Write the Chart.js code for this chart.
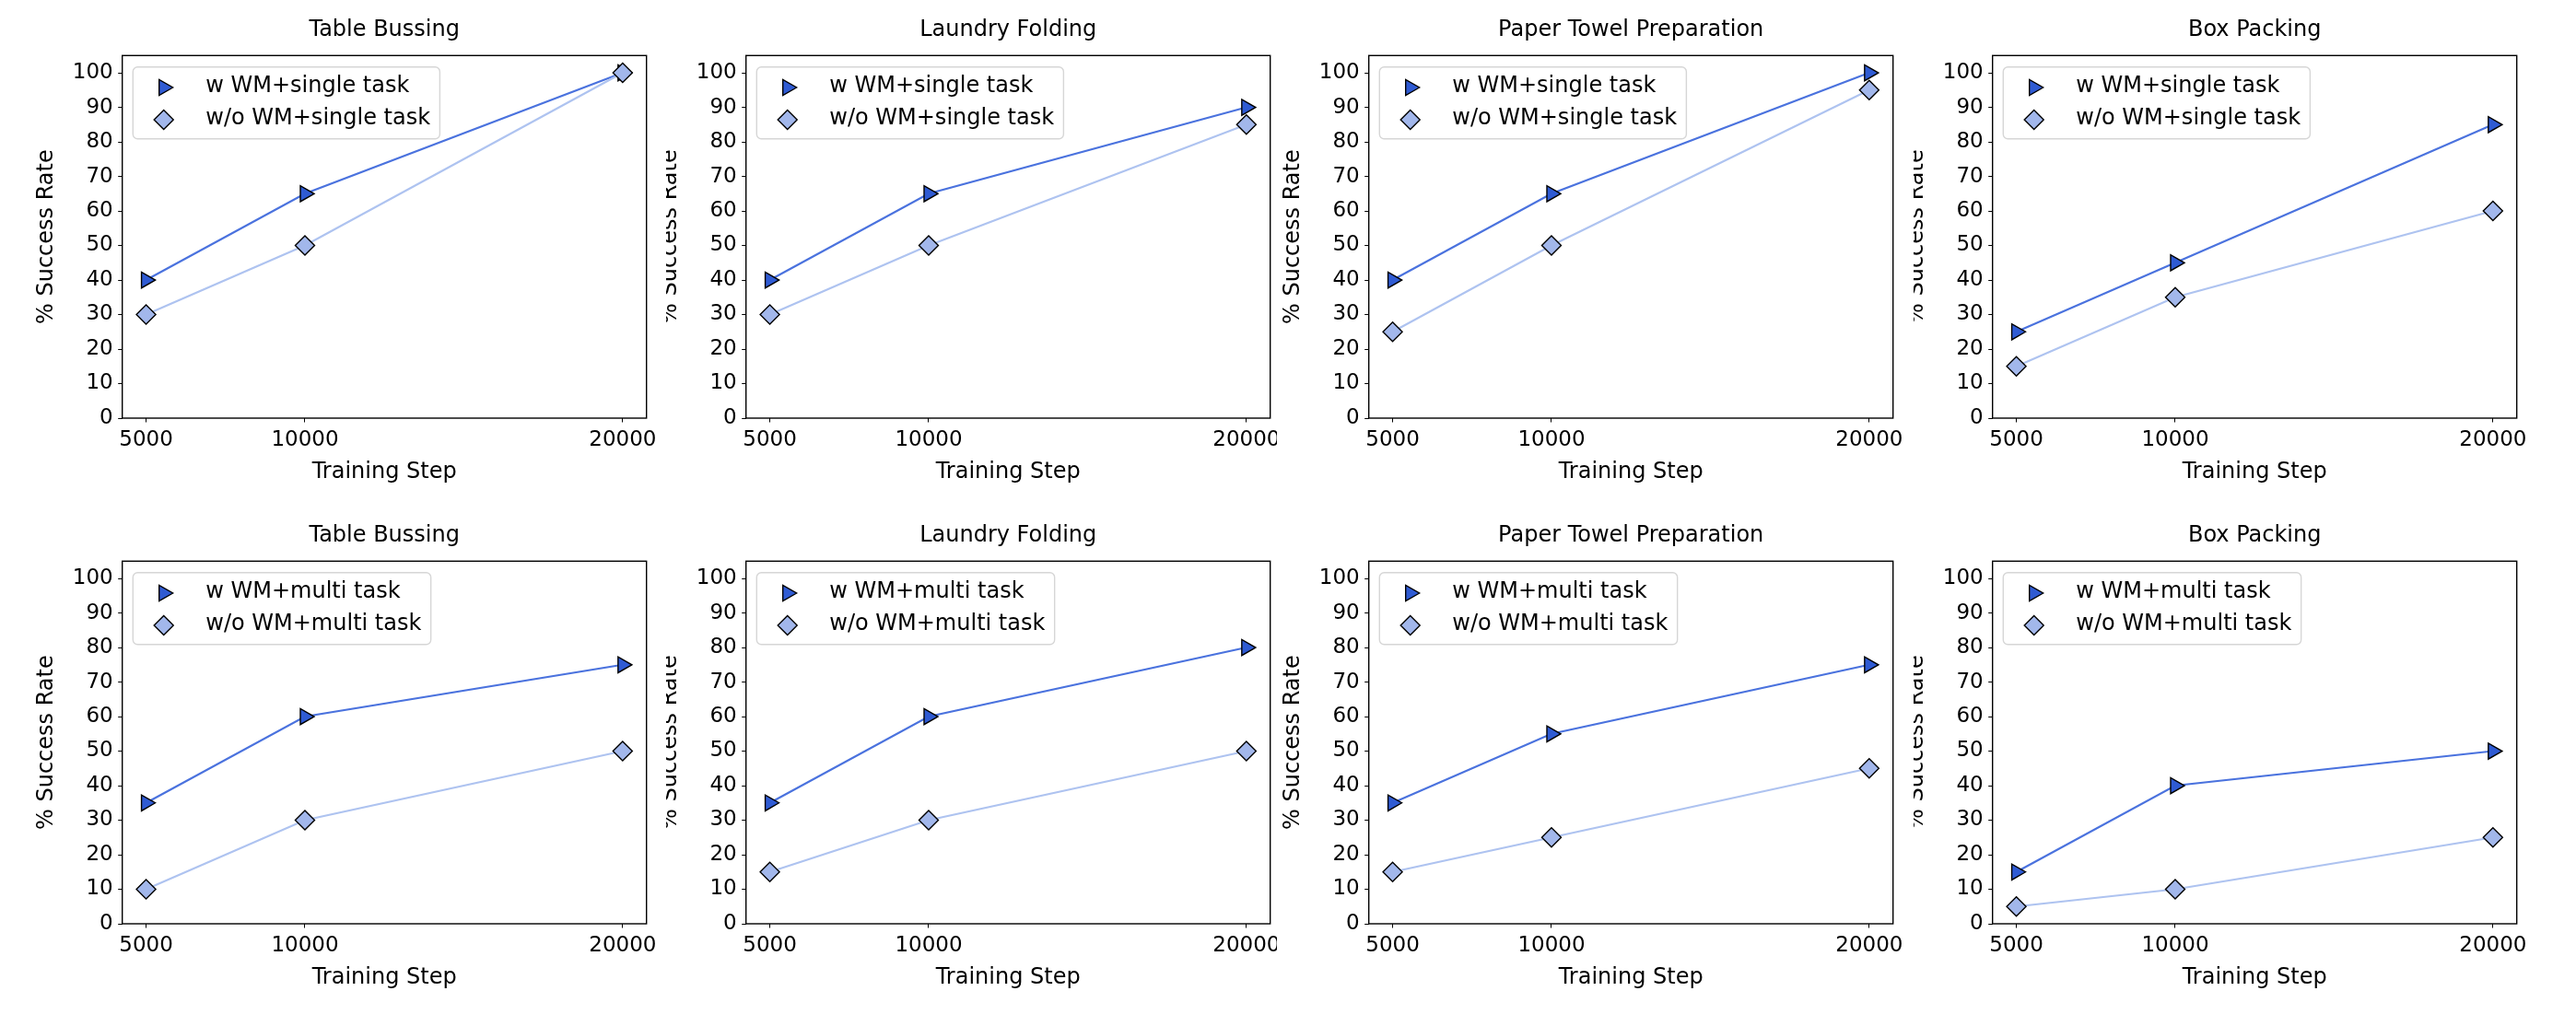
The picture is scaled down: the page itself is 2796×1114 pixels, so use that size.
<!DOCTYPE html>
<html>
<head>
<meta charset="utf-8">
<script src="https://cdn.jsdelivr.net/npm/chart.js@4.4.0/dist/chart.umd.min.js"></script>
<style>
  html, body { margin: 0; padding: 0; background: #fff; }
  #page { position: relative; width: 2796px; height: 1114px; overflow: hidden; }
  .cell { position: absolute; overflow: hidden; }
  .cell canvas { position: absolute; top: 0; }
</style>
</head>
<body>
<div id="page"></div>
<script>
// training steps on the x axis
const steps = [5000, 10000, 20000];
const yTicks = [0, 10, 20, 30, 40, 50, 60, 70, 80, 90, 100];
const taskNames = ['Table Bussing', 'Laundry Folding', 'Paper Towel Preparation', 'Box Packing'];

// success rate (%) per task, one row of values per task
const singleWithWM    = [[40, 65, 100], [40, 65, 90], [40, 65, 100], [25, 45, 85]];
const singleWithoutWM = [[30, 50, 100], [30, 50, 85], [25, 50, 95],  [15, 35, 60]];
const multiWithWM     = [[35, 60, 75],  [35, 60, 80], [35, 55, 75],  [15, 40, 50]];
const multiWithoutWM  = [[10, 30, 50],  [15, 30, 50], [15, 25, 45],  [5, 10, 25]];

const rowLabels = [
    ['w WM+single task', 'w/o WM+single task'],
    ['w WM+multi task', 'w/o WM+multi task']
];

const FONT = 'DejaVu Sans';
const colLefts = [132.7, 809.3, 1486.0, 2162.6];   // left spine of each panel
const clips = [[0, 719], [723, 1386], [1386, 2073], [2077, 2796]];
const rowTops = [0, 548.5];
const CW = 740, CH = 548, AXW = 132.7;

// top + right spines (the box round the plot)
const framePlugin = {
    id: 'frame',
    afterDatasetsDraw(chart) {
        const ca = chart.chartArea, ctx = chart.ctx;
        ctx.save();
        ctx.strokeStyle = '#000';
        ctx.lineWidth = 1.4;
        ctx.strokeRect(ca.left, ca.top, ca.right - ca.left, ca.bottom - ca.top);
        ctx.restore();
    }
};

function marker(ctx, ds, x, y) {
    ctx.fillStyle = ds.pointBackgroundColor;
    ctx.strokeStyle = ds.pointBorderColor;
    ctx.lineWidth = ds.pointBorderWidth;
    Chart.helpers.drawPoint(ctx, {
        pointStyle: ds.pointStyle,
        rotation: ds.pointRotation || 0,
        radius: ds.pointRadius,
        borderWidth: ds.pointBorderWidth
    }, x, y);
}

// matplotlib-like legend in the upper left of the plot
const boxLegend = {
    id: 'boxLegend',
    afterDraw(chart) {
        const ca = chart.chartArea, ctx = chart.ctx;
        const sets = chart.data.datasets.slice().sort((a, b) => a.legendIndex - b.legendIndex);
        ctx.save();
        ctx.font = '24px "' + FONT + '"';
        let tw = 0;
        sets.forEach(ds => { tw = Math.max(tw, ctx.measureText(ds.label).width); });
        const x0 = ca.left + 11.6, y0 = ca.top + 12.4;
        const w = 79 + tw + 10.3, h = 78;
        ctx.beginPath();
        ctx.roundRect(x0, y0, w, h, 5);
        ctx.fillStyle = 'rgba(255,255,255,0.8)';
        ctx.fill();
        ctx.strokeStyle = '#d6d6d6';
        ctx.lineWidth = 1.4;
        ctx.stroke();
        sets.forEach((ds, i) => {
            const cy = y0 + 22.3 + i * 35;
            marker(ctx, ds, x0 + 33.4, cy);
            ctx.fillStyle = '#000';
            ctx.textAlign = 'left';
            ctx.textBaseline = 'middle';
            ctx.fillText(ds.label, x0 + 79, cy - 1);
        });
        ctx.restore();
    }
};

function makePanel(row, col, withVals, withoutVals) {
    const page = document.getElementById('page');
    const cell = document.createElement('div');
    cell.className = 'cell';
    const cl = clips[col];
    cell.style.left = cl[0] + 'px';
    cell.style.width = (cl[1] - cl[0]) + 'px';
    cell.style.top = rowTops[row] + 'px';
    cell.style.height = CH + 'px';
    const cv = document.createElement('canvas');
    cv.width = CW;
    cv.height = CH;
    cv.style.left = (colLefts[col] - AXW - cl[0]) + 'px';
    cell.appendChild(cv);
    page.appendChild(cell);

    const tickFont = { family: FONT, size: 23 };
    const labelFont = { family: FONT, size: 24 };

    new Chart(cv.getContext('2d'), {
        type: 'line',
        data: {
            datasets: [
                {
                    label: rowLabels[row][0],
                    legendIndex: 0,
                    order: 1,
                    data: steps.map((s, k) => ({ x: s, y: withVals[k] })),
                    borderColor: '#4a72de',
                    borderWidth: 2.2,
                    tension: 0,
                    pointStyle: 'triangle',
                    pointRotation: 90,
                    pointRadius: 10,
                    pointBackgroundColor: '#2f5bd3',
                    pointBorderColor: '#000',
                    pointBorderWidth: 1.4,
                    clip: false
                },
                {
                    label: rowLabels[row][1],
                    legendIndex: 1,
                    order: 0,
                    data: steps.map((s, k) => ({ x: s, y: withoutVals[k] })),
                    borderColor: '#aec3f0',
                    borderWidth: 2.2,
                    tension: 0,
                    pointStyle: 'rectRot',
                    pointRadius: 10.5,
                    pointBackgroundColor: '#a2b7eb',
                    pointBorderColor: '#000',
                    pointBorderWidth: 1.4,
                    clip: false
                }
            ]
        },
        options: {
            responsive: false,
            animation: false,
            devicePixelRatio: 1,
            layout: { padding: { left: 0, top: 0, right: CW - 701.7, bottom: 0 } },
            plugins: {
                legend: { display: false },
                tooltip: { enabled: false },
                title: {
                    display: true,
                    text: taskNames[col],
                    fullSize: false,
                    color: '#000',
                    font: { family: FONT, size: 24, weight: 'normal' },
                    padding: { top: 18.6, bottom: 12.9 }
                }
            },
            scales: {
                x: {
                    type: 'linear',
                    min: 4250,
                    max: 20750,
                    afterBuildTicks: s => { s.ticks = steps.map(v => ({ value: v })); },
                    afterFit: s => {
                        s.height = CH - 454;
                        s.paddingLeft = 0; s.paddingRight = 0;
                        s.paddingTop = 0; s.paddingBottom = 0;
                    },
                    border: { display: false },
                    grid: { drawOnChartArea: false, drawTicks: true, tickLength: 4.5, color: '#000', lineWidth: 1 },
                    ticks: {
                        color: '#000', font: tickFont, padding: 6,
                        maxRotation: 0, autoSkip: false,
                        callback: v => String(v)
                    },
                    title: {
                        display: true, text: 'Training Step', color: '#000',
                        font: labelFont, padding: { top: 0, bottom: 20.6 }
                    }
                },
                y: {
                    type: 'linear',
                    min: 0,
                    max: 105,
                    afterBuildTicks: s => { s.ticks = yTicks.map(v => ({ value: v })); },
                    afterFit: s => {
                        s.width = AXW;
                        s.paddingLeft = 0; s.paddingRight = 0;
                        s.paddingTop = 0; s.paddingBottom = 0;
                    },
                    border: { display: false },
                    grid: { drawOnChartArea: false, drawTicks: true, tickLength: 4.5, color: '#000', lineWidth: 1 },
                    ticks: { color: '#000', font: tickFont, padding: 5.5, autoSkip: false },
                    title: {
                        display: true, text: '% Success Rate', color: '#000',
                        font: labelFont, padding: { top: 36.6, bottom: 0 }
                    }
                }
            }
        },
        plugins: [framePlugin, boxLegend]
    });
}

for (let c = 0; c < 4; c++) {
    makePanel(0, c, singleWithWM[c], singleWithoutWM[c]);
    makePanel(1, c, multiWithWM[c], multiWithoutWM[c]);
}
</script>
</body>
</html>
